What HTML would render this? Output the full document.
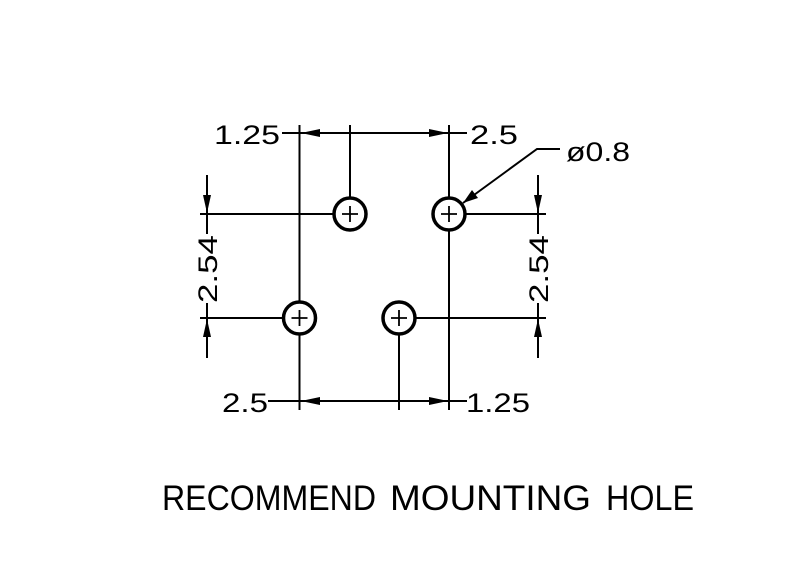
<!DOCTYPE html>
<html><head><style>html,body{margin:0;padding:0;background:#fff}svg{display:block}</style></head><body>
<svg width="800" height="576" viewBox="0 0 800 576" xmlns="http://www.w3.org/2000/svg">
<g stroke="#000" stroke-width="2" fill="none">
<line x1="299.5" y1="125" x2="299.5" y2="302"/>
<line x1="299.5" y1="334" x2="299.5" y2="410"/>
<line x1="449" y1="125" x2="449" y2="198"/>
<line x1="449" y1="230" x2="449" y2="410"/>
<line x1="350" y1="125" x2="350" y2="198"/>
<line x1="399" y1="334" x2="399" y2="410"/>
<line x1="282" y1="133" x2="467" y2="133"/>
<line x1="268" y1="401" x2="467" y2="401"/>
<line x1="200" y1="214" x2="334" y2="214"/>
<line x1="200" y1="318" x2="283" y2="318"/>
<line x1="465" y1="214" x2="546" y2="214"/>
<line x1="415" y1="318" x2="546" y2="318"/>
<line x1="207" y1="175" x2="207" y2="214"/>
<line x1="207" y1="318" x2="207" y2="358"/>
<line x1="207" y1="303" x2="207" y2="318"/>
<line x1="207" y1="214" x2="207" y2="234"/>
<line x1="538" y1="175" x2="538" y2="214"/>
<line x1="538" y1="318" x2="538" y2="358"/>
<line x1="538" y1="303" x2="538" y2="318"/>
<line x1="538" y1="214" x2="538" y2="234"/>
<polyline points="463,203 537,149 560,149"/>
</g>
<g stroke="#000" stroke-width="3.5" fill="none">
<circle cx="350" cy="214" r="16"/><circle cx="449" cy="214" r="16"/>
<circle cx="299.5" cy="318" r="16"/><circle cx="399" cy="318" r="16"/>
</g>
<g stroke="#000" stroke-width="1.8">
<path d="M342 214H358M350 206V222M441 214H457M449 206V222M291.5 318H307.5M299.5 310V326M391 318H407M399 310V326"/>
</g>
<g fill="#000">
<polygon points="301,133 320,129 320,137"/>
<polygon points="448,133 429,129 429,137"/>
<polygon points="301,401 320,397 320,405"/>
<polygon points="448,401 429,397 429,405"/>
<polygon points="207,213 203,195 211,195"/>
<polygon points="207,319 203,337 211,337"/>
<polygon points="538,213 534,195 542,195"/>
<polygon points="538,319 534,337 542,337"/>
<polygon points="463,203 472,190 478,198"/>
</g>
<g font-family="Liberation Sans, sans-serif" font-size="27" fill="#000">
<text x="214" y="144" textLength="66" lengthAdjust="spacingAndGlyphs">1.25</text>
<text x="470" y="144" textLength="48" lengthAdjust="spacingAndGlyphs">2.5</text>
<text x="222" y="412" textLength="46" lengthAdjust="spacingAndGlyphs">2.5</text>
<text x="466" y="412" textLength="64" lengthAdjust="spacingAndGlyphs">1.25</text>
<text x="566" y="161" textLength="64" lengthAdjust="spacingAndGlyphs">ø0.8</text>
<text transform="translate(217,303) rotate(-90)" textLength="68" lengthAdjust="spacingAndGlyphs">2.54</text>
<text transform="translate(548,303) rotate(-90)" textLength="68" lengthAdjust="spacingAndGlyphs">2.54</text>
</g>
<g font-family="Liberation Sans, sans-serif" font-size="35" fill="#000">
<text x="162" y="510" textLength="214" lengthAdjust="spacingAndGlyphs">RECOMMEND</text>
<text x="390" y="510" textLength="201" lengthAdjust="spacingAndGlyphs">MOUNTING</text>
<text x="606" y="510" textLength="88" lengthAdjust="spacingAndGlyphs">HOLE</text>
</g>
</svg>
</body></html>
